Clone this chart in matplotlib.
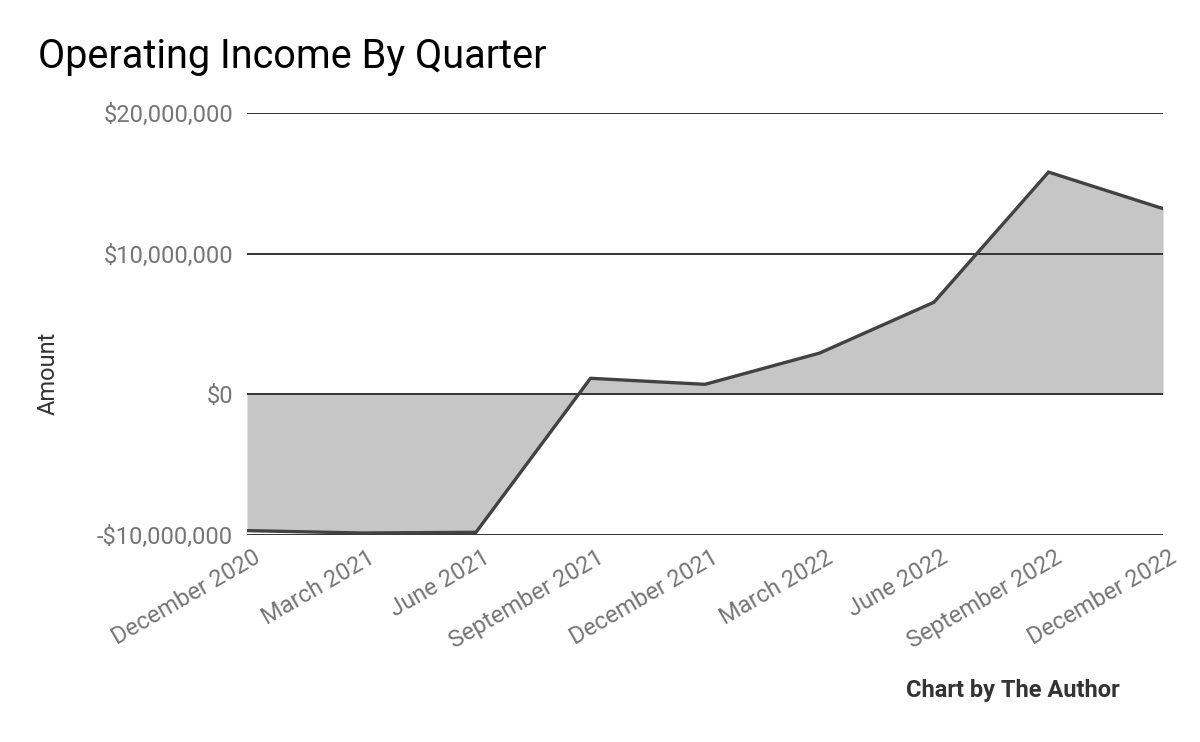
import matplotlib
matplotlib.use("Agg")
import matplotlib.pyplot as plt
import matplotlib.transforms as mtransforms
from matplotlib.ticker import FuncFormatter

plt.rcParams['font.family'] = ['Roboto', 'DejaVu Sans']

quarters = ["December 2020", "March 2021", "June 2021", "September 2021",
            "December 2021", "March 2022", "June 2022", "September 2022",
            "December 2022"]
operating_income = [-9690000, -9860000, -9810000, 1140000, 710000,
                    2930000, 6550000, 15800000, 13200000]
y_ticks = [-10000000, 0, 10000000, 20000000]


def money(v, pos=None):
    if v < 0:
        return "-${:,.0f}".format(-v)
    return "${:,.0f}".format(v)


fig = plt.figure(figsize=(12, 7.42), dpi=100)
ax = fig.add_axes([0.2058, 0.279, 0.9692 - 0.2058, 0.8477 - 0.279])

x = list(range(len(quarters)))
ax.fill_between(x, operating_income, 0, color='#c6c6c6', linewidth=0, zorder=1)
for t in y_ticks:
    ax.axhline(t, color='#333333', linewidth=1.4, zorder=2)
ax.plot(x, operating_income, color='#424242', linewidth=2.4, zorder=3,
        solid_joinstyle='miter')

ax.set_xlim(0, len(quarters) - 1)
ax.set_ylim(-10000000, 20000000)
ax.set_yticks(y_ticks)
ax.yaxis.set_major_formatter(FuncFormatter(money))
ax.set_xticks(x)
ax.set_xticklabels(quarters, rotation=30, ha='right', rotation_mode='anchor')

for s in ax.spines.values():
    s.set_visible(False)
ax.tick_params(axis='both', length=0, labelsize=17, colors='#757575')
ax.tick_params(axis='y', pad=10)
ax.tick_params(axis='x', pad=8)

# nudge the slanted labels a little to the right, like the original
shift = mtransforms.ScaledTranslation(6 / 100, 0, fig.dpi_scale_trans)
for lab in ax.get_xticklabels():
    lab.set_transform(lab.get_transform() + shift)

fig.text(48 / 1200, 1 - 373 / 742, "Amount", fontsize=17, color='#333333',
         rotation=90, ha='center', va='center')
fig.text(38 / 1200, 1 - 57 / 742, "Operating Income By Quarter", fontsize=28.5,
         color='#000000', ha='left', va='center')
fig.text(1120 / 1200, 1 - 691 / 742, "Chart by The Author", fontsize=17,
         fontweight='bold', color='#333333', ha='right', va='center')

fig.savefig("out.png", dpi=100)
